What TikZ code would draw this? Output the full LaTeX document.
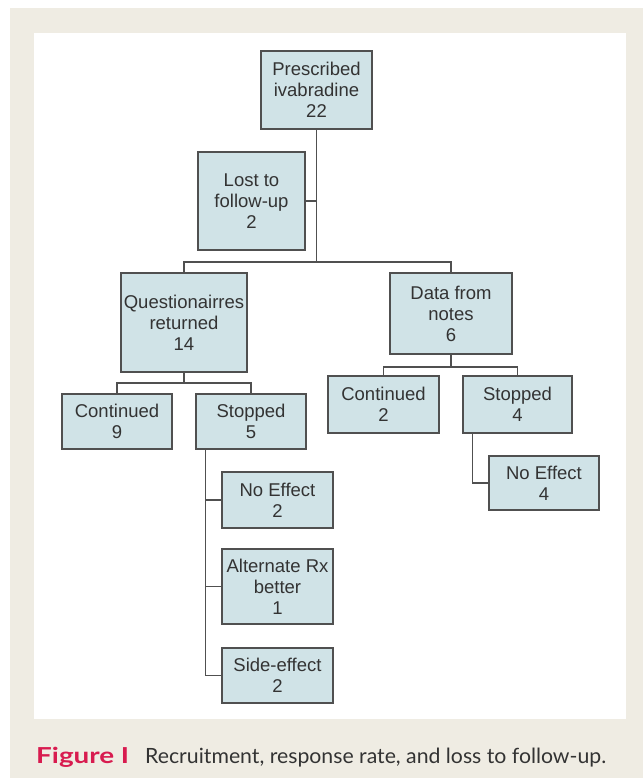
\documentclass[tikz,border=0pt]{standalone}
\usepackage{fontspec}
\usepackage{graphicx}
\setmainfont{Liberation Sans}
\newfontfamily\capfont{Lato}
\usetikzlibrary{calc}
\definecolor{bg}{HTML}{EFECE3}
\definecolor{boxfill}{HTML}{D0E3E7}
\definecolor{edge}{HTML}{505050}
\definecolor{figred}{HTML}{D81B4F}
\definecolor{txt}{HTML}{333333}
\begin{document}
\begin{tikzpicture}[x=1pt,y=-1pt,
  fbox/.style={draw=edge, line width=1.3pt, fill=boxfill, text=txt, align=center,
    inner sep=0pt, font=\fontsize{18.5}{21}\selectfont},
  conn/.style={draw=edge, line width=1.3pt}]
\useasboundingbox (0,0) rectangle (643,778);
\fill[white] (0,0) rectangle (643,778);
\fill[bg] (10,8) rectangle (643,778);
\fill[white] (34,33) rectangle (626,719);

% boxes
\node[fbox, minimum width=111pt, minimum height=78pt] (pres) at (316.5,90) {Prescribed\\ivabradine\\22};
\node[fbox, minimum width=107pt, minimum height=98pt] (lost) at (251.5,201) {Lost to\\follow-up\\2};
\node[fbox, minimum width=126pt, minimum height=99pt] (quest) at (184,322.5) {Questionairres\\returned\\14};
\node[fbox, minimum width=122pt, minimum height=81pt] (data) at (451,313.5) {Data from\\notes\\6};
\node[fbox, minimum width=110pt, minimum height=55pt] (cont9) at (117,421.5) {Continued\\9};
\node[fbox, minimum width=110pt, minimum height=55pt] (stop5) at (251,421.5) {Stopped\\5};
\node[fbox, minimum width=111pt, minimum height=57pt] (cont2) at (383.5,404.5) {Continued\\2};
\node[fbox, minimum width=109pt, minimum height=57pt] (stop4) at (517.5,404.5) {Stopped\\4};
\node[fbox, minimum width=110pt, minimum height=54pt] (noeff4) at (544,483) {No Effect\\4};
\node[fbox, minimum width=111pt, minimum height=56pt] (noeff2) at (277.5,500) {No Effect\\2};
\node[fbox, minimum width=111pt, minimum height=75pt] (alt) at (277.5,586.5) {Alternate Rx\\better\\1};
\node[fbox, minimum width=111pt, minimum height=55pt] (side) at (277.5,675.5) {Side-effect\\2};

% connectors
\coordinate (j1) at (316.5,262);
\draw[conn] (pres.south) -- (j1);
\draw[conn] (lost.east) -- (lost.east -| pres.south);
\draw[conn] (quest.north) |- (j1) -| (data.north);
\coordinate (j2) at (184,383);
\draw[conn] (quest.south) -- (j2);
\draw[conn] (cont9.north) |- (j2) -| (stop5.north);
\coordinate (j3) at (451,367);
\draw[conn] (data.south) -- (j3);
\draw[conn] (cont2.north) |- (j3) -| (stop4.north);
\coordinate (v4) at ($(stop4.south west)+(10,0)$);
\draw[conn] (v4) |- (noeff4.west);
\coordinate (v5) at ($(stop5.south west)+(10,0)$);
\draw[conn] (v5) |- (side.west);
\draw[conn] (noeff2.west) -- (noeff2.west -| v5);
\draw[conn] (alt.west) -- (alt.west -| v5);

% caption
\node[anchor=base west, inner sep=0pt, text=figred, font=\capfont\bfseries\fontsize{22}{26}\selectfont] (figlab) at (36,763) {\resizebox{93pt}{\height}{Figure I}};
\node[anchor=base west, inner sep=0pt, text=txt, font=\capfont\fontsize{21}{26}\selectfont] (captext) at (145,763) {\resizebox{461pt}{\height}{Recruitment, response rate, and loss to follow-up.}};
\end{tikzpicture}
\end{document}
